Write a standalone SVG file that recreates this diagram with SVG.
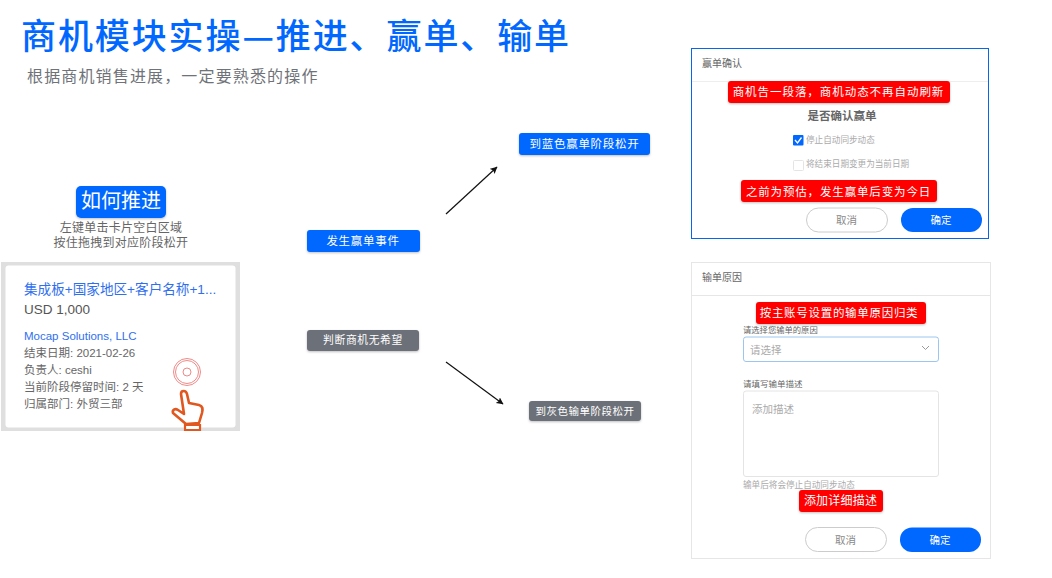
<svg xmlns="http://www.w3.org/2000/svg" width="1052" height="578" viewBox="0 0 1052 578">
<defs>
<filter id="sh" x="-10%" y="-20%" width="120%" height="150%"><feDropShadow dx="0" dy="1" stdDeviation="1" flood-color="#000" flood-opacity="0.25"/></filter>
<marker id="arr" markerWidth="8" markerHeight="8" refX="6.5" refY="3.5" orient="auto" markerUnits="userSpaceOnUse"><path d="M0 0L7 3.5L0 7L1.5 3.5Z" fill="#111"/></marker>
</defs>
<style>
text{font-family:"Liberation Sans","Noto Sans CJK SC",sans-serif}
.cjk{font-family:"Noto Sans CJK SC",sans-serif}
.w{fill:#fff;text-anchor:middle}
.blue{fill:#0067ff;filter:url(#sh)}
.gray{fill:#6c7078;filter:url(#sh)}
.red{fill:#fe0000;filter:url(#sh)}
.g{fill:#666}
.lg{fill:#aaa}
</style>
<rect width="1052" height="578" fill="#fff"/>
<g id="title">
<text class="cjk" x="21" y="49" font-size="35" font-weight="500" fill="#0067ff" letter-spacing="1.9">商机模块实操—推进、赢单、输单</text>
<text class="cjk" x="27" y="82" font-size="16" fill="#6f7379" letter-spacing="1.15">根据商机销售进展，一定要熟悉的操作</text>
</g>
<g id="connectors" stroke="#111" stroke-width="1.2" fill="none">
<path d="M446 214L497 167" marker-end="url(#arr)"/>
<path d="M446 362L503 404" marker-end="url(#arr)"/>
</g>
<g id="how-to">
<rect class="blue" x="76" y="186" width="90" height="32" rx="5"/>
<text class="w cjk" x="121" y="208" font-size="20">如何推进</text>
<text class="cjk g" x="121" y="232" font-size="12" text-anchor="middle" letter-spacing="0.25">左键单击卡片空白区域</text>
<text class="cjk g" x="121" y="247" font-size="12" text-anchor="middle" letter-spacing="0.25">按住拖拽到对应阶段松开</text>
</g>
<g id="card">
<rect x="1" y="262" width="239" height="169" fill="#dfdfdf"/>
<rect x="5.500" y="265.500" width="230" height="162" rx="3" fill="#fff"/>
<text x="24" y="294" font-size="13.600" fill="#2f6fee">集成板+国家地区+客户名称+1...</text>
<text x="24" y="314" font-size="13.500" fill="#555">USD 1,000</text>
<text x="24" y="340" font-size="11.500" fill="#2f6fee">Mocap Solutions, LLC</text>
<g font-size="11.500" fill="#666">
<text x="24" y="357">结束日期: 2021-02-26</text>
<text x="24" y="374">负责人: ceshi</text>
<text x="24" y="391">当前阶段停留时间: 2 天</text>
<text x="24" y="408">归属部门: 外贸三部</text>
</g>
<g fill="none" stroke="#ea6b6b" stroke-width="0.8"><circle cx="187" cy="372" r="13.500"/><circle cx="187" cy="372" r="11.500"/><circle cx="187" cy="372" r="4"/></g>
<path d="M181 394C181 390 186 390 187 394L189 403L199 405C203 406 203 409 202 413L199 423L186 424L173 413C172 410 175 408 178 410L184 414Z" fill="#fff" stroke="#e0571f" stroke-width="2.600" stroke-linejoin="round"/>
<path d="M185 425H200V430H185Z" fill="#fff" stroke="#e0571f" stroke-width="2.200"/>
</g>
<g id="win-event">
<rect class="blue" x="307" y="230" width="113" height="22" rx="3"/>
<text class="w cjk" x="363" y="245" font-size="11.500" letter-spacing="0.700">发生赢单事件</text>
</g>
<g id="lose-judge">
<rect class="gray" x="307" y="330" width="112" height="21" rx="3"/>
<text class="w cjk" x="363" y="344" font-size="10.800" letter-spacing="0.600">判断商机无希望</text>
</g>
<g id="to-blue">
<rect class="blue" x="519" y="133" width="131" height="22" rx="3"/>
<text class="w cjk" x="584.500" y="148" font-size="11.500" letter-spacing="0.700">到蓝色赢单阶段松开</text>
</g>
<g id="to-gray">
<rect class="gray" x="529" y="401" width="112" height="20" rx="3"/>
<text class="w cjk" x="585" y="414.500" font-size="10.500" letter-spacing="0.500">到灰色输单阶段松开</text>
</g>
<g id="win-dialog">
<rect x="691.500" y="48.500" width="297" height="190" fill="#fff" stroke="#0a66e8" stroke-width="1"/>
<path d="M692 81.500H988" stroke="#eee"/>
<text class="cjk" x="702" y="67" font-size="10" fill="#666">赢单确认</text>
<text class="cjk" x="842" y="120" font-size="11.500" fill="#666" font-weight="700" text-anchor="middle">是否确认赢单</text>
<rect x="793" y="135" width="10.500" height="10.500" rx="1" fill="#0067ff"/>
<path d="M795 140L797.500 143L801.500 137.500" stroke="#fff" stroke-width="1.300" fill="none"/>
<text class="cjk lg" x="806" y="143" font-size="8.600">停止自动同步动态</text>
<rect x="793.500" y="160.500" width="10" height="10" rx="1" fill="#fff" stroke="#e4e4e4"/>
<text class="cjk lg" x="806" y="167" font-size="8.600">将结束日期变更为当前日期</text>
<rect x="806.500" y="208" width="81" height="24" rx="12" fill="#fff" stroke="#ccc"/>
<text class="cjk" x="846.500" y="224" font-size="10.500" fill="#888" text-anchor="middle">取消</text>
<rect x="901" y="208" width="81" height="24" rx="12" fill="#0067ff"/>
<text class="w cjk" x="941" y="224" font-size="10.500">确定</text>
<rect class="red" x="728" y="81" width="222" height="22" rx="3"/>
<text class="w cjk" x="838.500" y="96" font-size="11.500" letter-spacing="0.950">商机告一段落，商机动态不再自动刷新</text>
<rect class="red" x="741" y="180" width="196" height="22" rx="3"/>
<text class="w cjk" x="838.500" y="195.500" font-size="11.500" letter-spacing="0.850">之前为预估，发生赢单后变为今日</text>
</g>
<g id="lose-dialog">
<rect x="691.500" y="262.500" width="299" height="296" fill="#fff" stroke="#e6e6e6"/>
<path d="M692 295.500H990" stroke="#e6e6e6"/>
<text class="cjk" x="702" y="281" font-size="10" fill="#666">输单原因</text>
<text class="cjk g" x="743" y="333" font-size="8.300">请选择您输单的原因</text>
<rect x="743.500" y="337" width="195" height="24.500" rx="2.500" fill="#fff" stroke="#9cc6f0"/>
<text class="cjk lg" x="750" y="354" font-size="10.500">请选择</text>
<path d="M922 346L925.500 349.500L929 346" fill="none" stroke="#999" stroke-width="1"/>
<text class="cjk g" x="743" y="387" font-size="8.500">请填写输单描述</text>
<rect x="743.500" y="391" width="195" height="85.500" rx="2.500" fill="#fff" stroke="#e4e4e4"/>
<text class="cjk lg" x="752" y="413" font-size="10.500">添加描述</text>
<text class="cjk lg" x="743" y="488" font-size="8.600">输单后将会停止自动同步动态</text>
<rect x="805.500" y="527.500" width="81" height="24" rx="12" fill="#fff" stroke="#ccc"/>
<text class="cjk" x="845.500" y="544" font-size="10.500" fill="#888" text-anchor="middle">取消</text>
<rect x="900" y="527.500" width="81" height="24.500" rx="12" fill="#0067ff"/>
<text class="w cjk" x="940" y="544" font-size="10.500">确定</text>
<rect class="red" x="756" y="302" width="170" height="22" rx="3"/>
<text class="w cjk" x="839" y="317" font-size="11.500" letter-spacing="0.700">按主账号设置的输单原因归类</text>
<rect class="red" x="799" y="490" width="84" height="22" rx="3"/>
<text class="w cjk" x="840.500" y="505" font-size="12" letter-spacing="0.200">添加详细描述</text>
</g>
</svg>
